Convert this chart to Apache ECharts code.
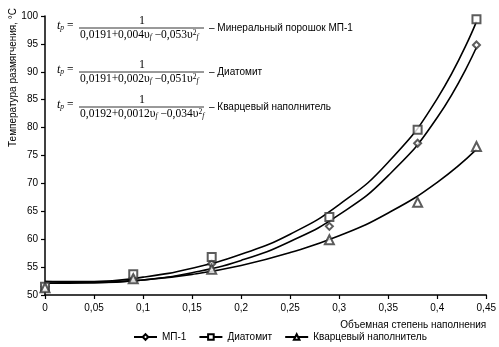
<!DOCTYPE html>
<html><head><meta charset="utf-8">
<script src="https://cdn.jsdelivr.net/npm/echarts@6/dist/echarts.min.js"></script>
<style>html,body{margin:0;padding:0;background:#fff}#c{width:499px;height:347px}</style>
</head><body><div id="c"></div>
<script>
// Fitted curve values
const curveX = [0, 0.05, 0.1, 0.15, 0.2, 0.25, 0.3, 0.35, 0.4, 0.44];
const curveMP1 = [52.4, 52.2, 52.7, 54.0, 56.2, 59.6, 64.4, 71.4, 81.8, 94.4];
const curveDiatomite = [52.4, 52.4, 53.2, 54.8, 57.3, 60.9, 66.2, 73.8, 85.2, 99.0];
const curveQuartz = [52.1, 52.2, 52.7, 53.7, 55.3, 57.6, 60.6, 64.7, 70.2, 76.1];
// Measured points (markers)
const pointX = [0, 0.09, 0.17, 0.29, 0.38, 0.44];
const pointMP1 = [51.5, 53.1, 55.6, 62.3, 77.2, 94.8];
const pointDiatomite = [51.5, 53.7, 56.8, 64.0, 79.6, 99.4];
const pointQuartz = [51.3, 52.9, 54.6, 59.9, 66.6, 76.6];
const seriesNames = ['МП-1', 'Диатомит', 'Кварцевый наполнитель'];
const xTicks = {min: 0, max: 0.45, step: 0.05};
const yTicks = {min: 50, max: 100, step: 5};

const pair = (xs, ys) => xs.map((x, i) => [x, ys[i]]);
const chart = echarts.init(document.getElementById('c'), null, {renderer: 'canvas'});
const symbols = ['emptyDiamond', 'emptyRect', 'emptyTriangle'];
const symSizes = [7, 8, 9];
const curves = [curveMP1, curveDiatomite, curveQuartz];
const points = [pointMP1, pointDiatomite, pointQuartz];
const series = [];
seriesNames.forEach((n, i) => {
  series.push({
    name: n, type: 'line', smooth: true, data: pair(curveX, curves[i]),
    symbol: symbols[i], symbolSize: symSizes[i] - 1, showSymbol: false,
    lineStyle: {color: '#000', width: 1.6}, itemStyle: {color: '#000', borderWidth: 0.8},
    z: 2
  });
});
seriesNames.forEach((n, i) => {
  series.push({
    name: n + ' (точки)', type: 'scatter', data: pair(pointX, points[i]),
    symbol: symbols[i], symbolSize: symSizes[i],
    itemStyle: {color: '#333', borderColor: '#333', borderWidth: 0.8}, z: 3
  });
});

const serif = '"Liberation Serif", "Times New Roman", serif';
const sans = '"Liberation Sans", Arial, sans-serif';
const rich = {
  it: {fontFamily: serif, fontSize: 12, fontStyle: 'italic', verticalAlign: 'bottom'},
  sub: {fontFamily: serif, fontSize: 7.5, verticalAlign: 'bottom', fontStyle: 'italic'},
  sup: {fontFamily: serif, fontSize: 7.5, verticalAlign: 'top'},
  n: {fontFamily: serif, fontSize: 11.5, verticalAlign: 'bottom'}
};
const formulas = [
  {den: '{n|0,0191+0,004υ}{sub|f}{n| −0,053υ}{sup|2}{sub|f}', label: '– Минеральный порошок МП-1', y: 28, barEnd: 204},
  {den: '{n|0,0191+0,002υ}{sub|f}{n| −0,051υ}{sup|2}{sub|f}', label: '– Диатомит', y: 72, barEnd: 204},
  {den: '{n|0,0192+0,0012υ}{sub|f}{n| −0,034υ}{sup|2}{sub|f}', label: '– Кварцевый наполнитель', y: 107, barEnd: 204}
];
const graphic = [];
formulas.forEach(f => {
  graphic.push({type: 'text', left: 57, top: f.y - 8, style: {text: '{it|t}{sub|р}{n| =}', rich: rich, fill: '#000'}});
  graphic.push({type: 'text', x: (80 + f.barEnd) / 2, y: f.y - 1, style: {text: '1', font: '12px ' + serif, fill: '#000', align: 'center', verticalAlign: 'bottom'}});
  graphic.push({type: 'line', shape: {x1: 79, y1: f.y, x2: f.barEnd, y2: f.y}, style: {stroke: '#000', lineWidth: 0.8}});
  graphic.push({type: 'text', x: 80, y: f.y + 1, style: {text: f.den, rich: rich, fill: '#000', verticalAlign: 'top'}});
  graphic.push({type: 'text', x: f.barEnd + 5, y: f.y, style: {text: f.label, font: '10px ' + sans, fill: '#000', verticalAlign: 'middle'}});
});
graphic.push({type: 'text', x: 13, y: 8, rotation: Math.PI / 2,
  style: {text: 'Температура размягчения, °C', font: '10px ' + sans, fill: '#000', align: 'right', verticalAlign: 'middle'}});

chart.setOption({
  animation: false,
  backgroundColor: '#fff',
  grid: {left: 45, right: 9, top: 16, bottom: 52, containLabel: false},
  legend: {
    data: seriesNames, bottom: 0, left: 128, itemWidth: 23, itemHeight: 7, itemGap: 12,
    textStyle: {fontFamily: sans, fontSize: 10, color: '#000'}
  },
  xAxis: {
    type: 'value', min: xTicks.min, max: xTicks.max, interval: xTicks.step,
    name: 'Объемная степень наполнения', nameLocation: 'end', nameGap: 0,
    nameTextStyle: {fontFamily: sans, fontSize: 10, color: '#000', align: 'right', verticalAlign: 'top', padding: [25, 0, 0, 0]},
    axisLine: {lineStyle: {color: '#000', width: 1.5}},
    axisTick: {show: true, length: 4, lineStyle: {color: '#000', width: 1.2}},
    axisLabel: {fontFamily: sans, fontSize: 10, color: '#000', margin: 8,
      formatter: v => String(Math.round(v * 100) / 100).replace('.', ',')},
    splitLine: {show: false}
  },
  yAxis: {
    type: 'value', min: yTicks.min, max: yTicks.max, interval: yTicks.step,
    axisLine: {show: true, lineStyle: {color: '#000', width: 1.5}},
    axisTick: {show: true, length: 4, lineStyle: {color: '#000', width: 1.2}},
    axisLabel: {fontFamily: sans, fontSize: 10, color: '#000', margin: 7},
    splitLine: {show: false}
  },
  graphic: graphic,
  series: series
});
</script></body></html>
